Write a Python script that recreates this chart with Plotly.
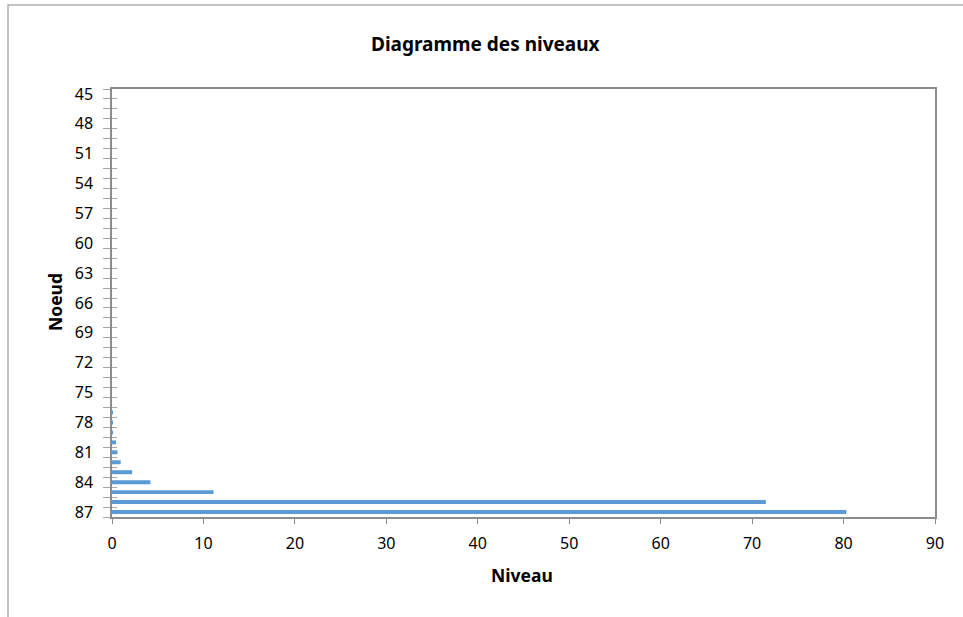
import plotly.graph_objects as go

noeuds = [45, 46, 47, 48, 49, 50, 51, 52, 53, 54, 55, 56, 57, 58, 59, 60,
          61, 62, 63, 64, 65, 66, 67, 68, 69, 70, 71, 72, 73, 74, 75, 76,
          77, 78, 79, 80, 81, 82, 83, 84, 85, 86, 87]
niveaux = [0, 0, 0, 0, 0, 0, 0, 0, 0, 0, 0, 0, 0, 0, 0, 0,
           0, 0, 0, 0, 0, 0, 0, 0, 0, 0, 0, 0, 0, 0, 0, 0,
           0.04, 0.06, 0.1, 0.44, 0.6, 0.95, 2.2, 4.2, 11.1, 71.5, 80.3]
tick_noeuds = [45, 48, 51, 54, 57, 60, 63, 66, 69, 72, 75, 78, 81, 84, 87]
x_ticks = [0, 10, 20, 30, 40, 50, 60, 70, 80, 90]

OFF = 0  # body margin removed by post_script
W, H = 963, 617
SX0, SX1, SY0, SY1 = 112, 935, 89, 517
L, T = SX0 - OFF, SY0 - OFF
R, B = W - (SX1 - OFF), H - (SY1 - OFF)
pw, ph = W - L - R, H - T - B

def px(x):
    return (x - OFF - L) / pw

def py(y):
    return (H - B - (y - OFF)) / ph

font = "Noto Sans"
axis_col = "#8c8c8c"
tick_col = "#a6a6a6"

fig = go.Figure()
fig.add_trace(go.Bar(
    x=niveaux, y=noeuds, orientation="h", width=0.4,
    marker=dict(color="#5B9BD5", line=dict(width=0)),
    hoverinfo="x+y",
))
fig.add_trace(go.Scatter(x=[None], y=[None], yaxis="y2", showlegend=False, hoverinfo="skip"))

fig.update_layout(
    width=W, height=H,
    margin=dict(l=L, r=R, t=T, b=B),
    paper_bgcolor="white", plot_bgcolor="white",
    showlegend=False,
    font=dict(family=font, size=16, color="#000000"),
    xaxis=dict(
        range=[0, 90], tickmode="array", tickvals=x_ticks,
        ticks="outside", ticklen=5, tickcolor=axis_col, tickwidth=1,
        ticklabelstandoff=6,
        showline=True, linecolor=axis_col, linewidth=1.5, mirror=True,
        showgrid=False, zeroline=False,
        tickfont=dict(family=font, size=16, color="#000000"),
    ),
    yaxis=dict(
        range=[87.5, 44.5], tickmode="array", tickvals=tick_noeuds,
        ticktext=[str(v) for v in tick_noeuds],
        ticks="outside", ticklen=7, tickcolor="rgba(0,0,0,0)",
        ticklabelstandoff=7,
        minor=dict(tickmode="linear", tick0=44.5, dtick=1, ticks="outside",
                   ticklen=7, tickcolor=tick_col, tickwidth=1, showgrid=False),
        showline=True, linecolor=axis_col, linewidth=1.5, mirror=True,
        showgrid=False, zeroline=False,
        tickfont=dict(family=font, size=16, color="#000000"),
    ),
    yaxis2=dict(
        overlaying="y", anchor="x", side="left", range=[87.5, 44.5],
        tickmode="linear", tick0=44.5, dtick=1, ticks="inside", ticklen=5,
        tickcolor=tick_col, tickwidth=1, showticklabels=False,
        showline=False, showgrid=False, zeroline=False,
    ),
    annotations=[
        dict(text="<b>Diagramme des niveaux</b>", xref="paper", yref="paper",
             x=px(485), y=py(44), xanchor="center", yanchor="middle",
             showarrow=False, font=dict(family=font, size=19, color="#000000")),
        dict(text="<b>Niveau</b>", xref="paper", yref="paper",
             x=px(522), y=py(575), xanchor="center", yanchor="middle",
             showarrow=False, font=dict(family=font, size=17.5, color="#000000")),
        dict(text="<b>Noeud</b>", xref="paper", yref="paper",
             x=px(55), y=py(302), xanchor="center", yanchor="middle",
             textangle=-90, showarrow=False,
             font=dict(family=font, size=17.5, color="#000000")),
    ],
    shapes=[
        dict(type="rect", xref="paper", yref="paper",
             x0=px(8), x1=px(990), y0=py(640), y1=py(5),
             line=dict(color="#b0b0b0", width=1.5), fillcolor="rgba(0,0,0,0)",
             layer="below"),
    ],
)

fig.write_html("out.html",
               config={"displayModeBar": False},
               post_script="document.body.style.margin='0px';document.body.style.padding='0px';")
